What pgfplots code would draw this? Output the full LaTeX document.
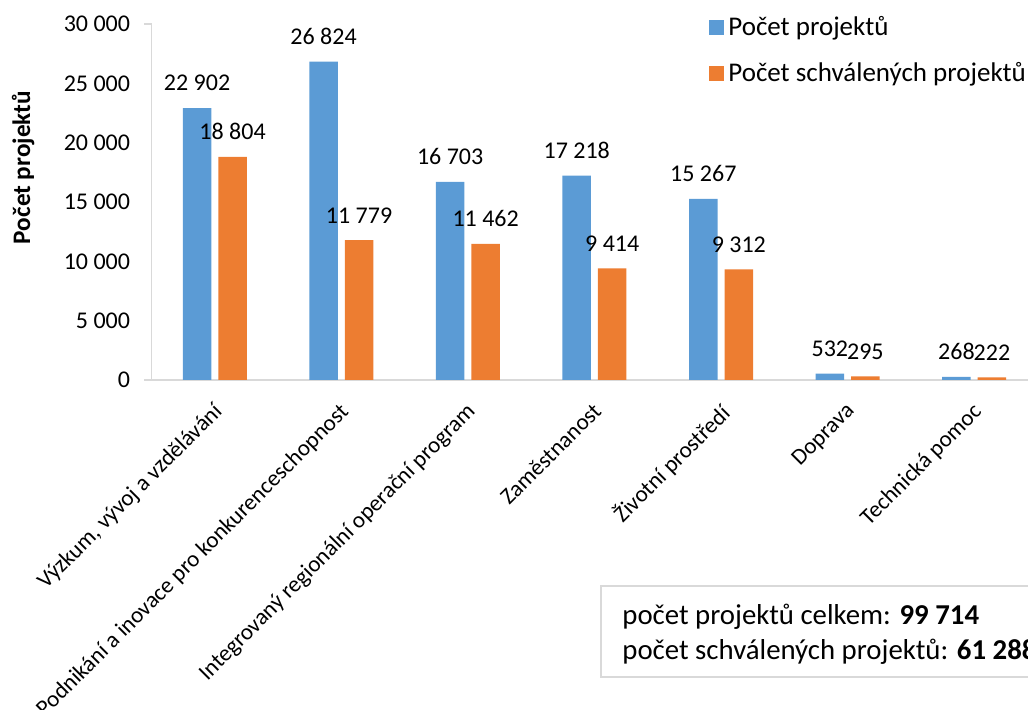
\documentclass[border=0pt]{standalone}
\usepackage{pgfplots}
\pgfplotsset{compat=1.18}
\usepackage{fontspec}
\setmainfont{Carlito}
\definecolor{cblue}{HTML}{5B9BD5}
\definecolor{corange}{HTML}{ED7D31}
\definecolor{cline}{HTML}{D9D9D9}
\newcommand{\fs}{\fontsize{12}{14.4}\selectfont}
\begin{document}
\begin{tikzpicture}[x=1pt,y=1pt]
\path[use as bounding box] (0,0) rectangle (514,355);
\clip (0,0) rectangle (514,355);
\begin{axis}[
  at={(75.75pt,165pt)}, anchor=south west,
  scale only axis, width=443pt, height=178pt,
  ybar=3.5pt, bar width=14.25pt,
  xmin=-0.5, xmax=6.5, ymin=0, ymax=30000,
  clip=false,
  xtick={0,...,6},
  xticklabels={{Výzkum, vývoj a vzdělávání},{Podnikání a inovace pro konkurenceschopnost},{Integrovaný regionální operační program},{Zaměstnanost},{Životní prostředí},{Doprava},{Technická pomoc}},
  ytick={0,5000,...,30000},
  scaled y ticks=false,
  major tick length=0pt,
  /pgf/number format/.cd, fixed, precision=0, 1000 sep={\ }, assume math mode=true,
  /pgfplots/.cd,
  separate axis lines,
  axis x line*=bottom, axis y line*=left,
  x axis line style={-, draw=cline, line width=1pt},
  y axis line style={-, draw=cline, line width=0.75pt},
  yticklabel style={font=\fs, xshift=-7.2pt},
  xticklabel style={font=\fontsize{11.5}{14}\selectfont, yshift=-10.5pt, xshift=-1.5pt, rotate=45, anchor=north east, inner sep=0pt},
  nodes near coords,
  every node near coord/.append style={font=\fs, text=black, anchor=center, yshift=12.5pt},
  legend image code/.code={\fill[#1] (0pt,-3.75pt) rectangle (7.5pt,3.75pt);},
  legend style={draw=none, fill=none, inner sep=0pt, at={(0.6292,0.9256)}, anchor=west,
    font=\fontsize{13.5}{16}\selectfont, row sep=7.6pt, nodes={inner sep=2pt}},
  legend cell align=left,
]
\addplot[fill=cblue, draw=none] coordinates {(0,22902) (1,26824) (2,16703) (3,17218) (4,15267) (5,532) (6,268)};
\addplot[fill=corange, draw=none] coordinates {(0,18804) (1,11779) (2,11462) (3,9414) (4,9312) (5,295) (6,222)};
\legend{Počet projektů, Počet schválených projektů}
\end{axis}
\draw[cline, line width=0.75pt] (72,343) -- (75.75,343);
\draw[cline, line width=1pt] (72,165) -- (75.75,165);
\node[rotate=90, font=\fontsize{12.6}{15}\selectfont\bfseries, inner sep=0pt] at (11.5,271.25) {Počet projektů};
\draw[cline, line width=1.2pt] (300.5,62) rectangle (530,16.5);
\node[anchor=base west, inner sep=0pt, font=\fontsize{14.4}{17}\selectfont] at (311,42.5) {počet projektů celkem: \textbf{99 714}};
\node[anchor=base west, inner sep=0pt, font=\fontsize{14.4}{17}\selectfont] at (311,25) {počet schválených projektů: \textbf{61 288}};
\end{tikzpicture}
\end{document}
